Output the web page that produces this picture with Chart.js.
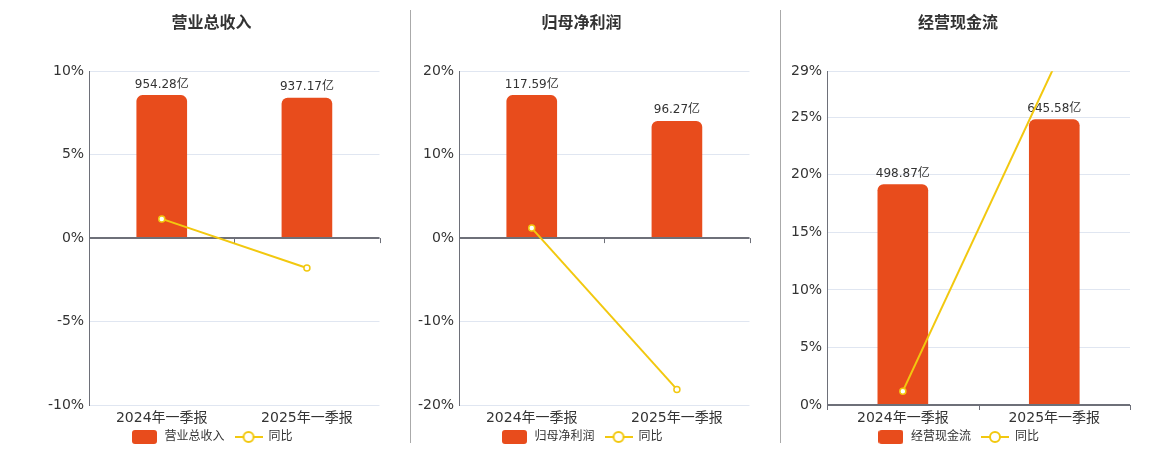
<!DOCTYPE html>
<html>
<head>
<meta charset="utf-8">
<script src="https://cdn.jsdelivr.net/npm/chart.js@4.4.0/dist/chart.umd.min.js"></script>
<style>
  body { margin: 0; background: #fff; width: 1160px; height: 450px; position: relative; overflow: hidden; }
  .panel { position: absolute; top: 11px; height: 442px; }
  .sep { position: absolute; top: 10px; height: 433px; width: 1px; background: #aaa; }
</style>
</head>
<body>
<div class="sep" style="left:410px"></div>
<div class="sep" style="left:780px"></div>
<div class="panel" style="left:35px;width:350px"><canvas id="c1"></canvas></div>
<div class="panel" style="left:405px;width:350px"><canvas id="c2"></canvas></div>
<div class="panel" style="left:780px;width:360px"><canvas id="c3"></canvas></div>
<script>
// data
const categories = ['2024年一季报', '2025年一季报'];

const revenue = [954.28, 937.17];
const revenueYoy = [1.15, -1.79];
const revenueTicks = [-10, -5, 0, 5, 10];

const netProfit = [117.59, 96.27];
const netProfitYoy = [1.2, -18.13];
const netProfitTicks = [-20, -10, 0, 10, 20];

const cashFlow = [498.87, 645.58];
const cashFlowYoy = [1.2, 29.41];
const cashFlowTicks = [0, 5, 10, 15, 20, 25, 29];

const FONT = '"DejaVu Sans", "Noto Sans CJK SC", sans-serif';
const BAR_COLOR = '#E84C1C';
const LINE_COLOR = '#F2C80F';
const AXIS_COLOR = '#6E7079';

// legend icons
function barIcon() {
    const c = document.createElement('canvas');
    c.width = 25; c.height = 14;
    const ctx = c.getContext('2d');
    ctx.fillStyle = BAR_COLOR;
    ctx.beginPath();
    ctx.roundRect(0, 0, 25, 14, 3);
    ctx.fill();
    return c;
}
function lineIcon() {
    const c = document.createElement('canvas');
    c.width = 28; c.height = 14;
    const ctx = c.getContext('2d');
    ctx.strokeStyle = LINE_COLOR;
    ctx.lineWidth = 2;
    ctx.beginPath();
    ctx.moveTo(0, 7); ctx.lineTo(28, 7);
    ctx.stroke();
    ctx.beginPath();
    ctx.arc(14, 7, 5, 0, Math.PI * 2);
    ctx.fillStyle = '#fff';
    ctx.fill();
    ctx.stroke();
    return c;
}
const icons = [barIcon(), lineIcon()];

// zero axis line with ticks + value labels on the bars
const barExtras = {
    id: 'barExtras',
    afterLayout(chart) {
        // x axis box is squeezed in afterFit; widen its clip area so labels are not cut
        chart.scales.x.bottom += 20;
    },
    afterDatasetDraw(chart, args) {
        if (args.index !== 0) return;
        const ctx = chart.ctx;
        const xs = chart.scales.x;
        const y0 = chart.scales.y.getPixelForValue(0);
        ctx.save();
        ctx.strokeStyle = AXIS_COLOR;
        ctx.lineWidth = 2;
        ctx.beginPath();
        ctx.moveTo(xs.left, y0);
        ctx.lineTo(xs.right, y0);
        ctx.stroke();
        ctx.lineWidth = 1;
        const mid = (xs.getPixelForValue(0) + xs.getPixelForValue(1)) / 2;
        [xs.left, mid, xs.right].forEach(x => {
            ctx.beginPath();
            ctx.moveTo(Math.round(x) + 0.5, y0);
            ctx.lineTo(Math.round(x) + 0.5, y0 + 5);
            ctx.stroke();
        });
        const values = chart.data.datasets[0].data;
        ctx.fillStyle = '#333';
        ctx.font = '12px ' + FONT;
        ctx.textAlign = 'center';
        ctx.textBaseline = 'bottom';
        args.meta.data.forEach((bar, i) => {
            ctx.fillText(values[i].toFixed(2) + '亿', bar.x, bar.y - 5);
        });
        ctx.restore();
    }
};

function makeChart(id, title, label, bars, yoy, ticks, pad) {
    const barMax = Math.max(...bars) * 1.17;
    new Chart(document.getElementById(id), {
        data: {
            labels: categories,
            datasets: [{
                type: 'bar',
                label: label,
                data: bars,
                yAxisID: 'y1',
                backgroundColor: BAR_COLOR,
                borderRadius: { topLeft: 6, topRight: 6 },
                borderSkipped: 'bottom',
                barThickness: 50,
                order: 1,
            }, {
                type: 'line',
                label: '同比',
                data: yoy,
                yAxisID: 'y',
                borderColor: LINE_COLOR,
                borderWidth: 2,
                pointRadius: 3,
                pointBorderWidth: 1.5,
                pointBackgroundColor: '#fff',
                pointBorderColor: LINE_COLOR,
                order: 0,
            }],
        },
        options: {
            responsive: true,
            maintainAspectRatio: false,
            animation: false,
            layout: { padding: { left: pad.left, right: pad.right } },
            plugins: {
                title: {
                    display: true,
                    text: title,
                    color: '#333',
                    font: { family: FONT, size: 16, weight: 'bold' },
                    padding: { top: 3, bottom: 38 },
                },
                legend: {
                    position: 'bottom',
                    labels: {
                        usePointStyle: true,
                        pointStyleWidth: 28,
                        boxHeight: 14,
                        padding: 10,
                        color: '#333',
                        font: { family: FONT, size: 12 },
                        generateLabels: (chart) => chart.data.datasets.map((ds, i) => ({
                            text: ds.label,
                            pointStyle: icons[i],
                            datasetIndex: i,
                            fontColor: '#333',
                            hidden: false,
                            lineWidth: 0,
                            strokeStyle: 'rgba(0,0,0,0)',
                            fillStyle: 'rgba(0,0,0,0)',
                        })),
                    },
                },
                tooltip: { enabled: false },
            },
            scales: {
                x: {
                    grid: { display: false, drawTicks: false },
                    border: { display: false },
                    ticks: { color: '#333', font: { family: FONT, size: 14 }, padding: 5 },
                    afterFit(scale) { scale.height = 16; },
                },
                y: {
                    min: ticks[0],
                    max: ticks[ticks.length - 1],
                    afterBuildTicks(scale) { scale.ticks = ticks.map(v => ({ value: v })); },
                    grid: { color: '#E0E6F1', drawTicks: false },
                    border: { display: true, color: AXIS_COLOR, width: 1 },
                    ticks: {
                        color: '#333',
                        font: { family: FONT, size: 14 },
                        padding: 5,
                        callback: v => v + '%',
                    },
                },
                y1: {
                    display: false,
                    min: ticks[0] < 0 ? -barMax : 0,
                    max: barMax,
                },
            },
        },
        plugins: [barExtras],
    });
}

makeChart('c1', '营业总收入', '营业总收入', revenue, revenueYoy, revenueTicks, { left: 8, right: 5 });
makeChart('c2', '归母净利润', '归母净利润', netProfit, netProfitYoy, netProfitTicks, { left: 8, right: 5 });
makeChart('c3', '经营现金流', '经营现金流', cashFlow, cashFlowYoy, cashFlowTicks, { left: 6, right: 10 });
</script>
</body>
</html>
